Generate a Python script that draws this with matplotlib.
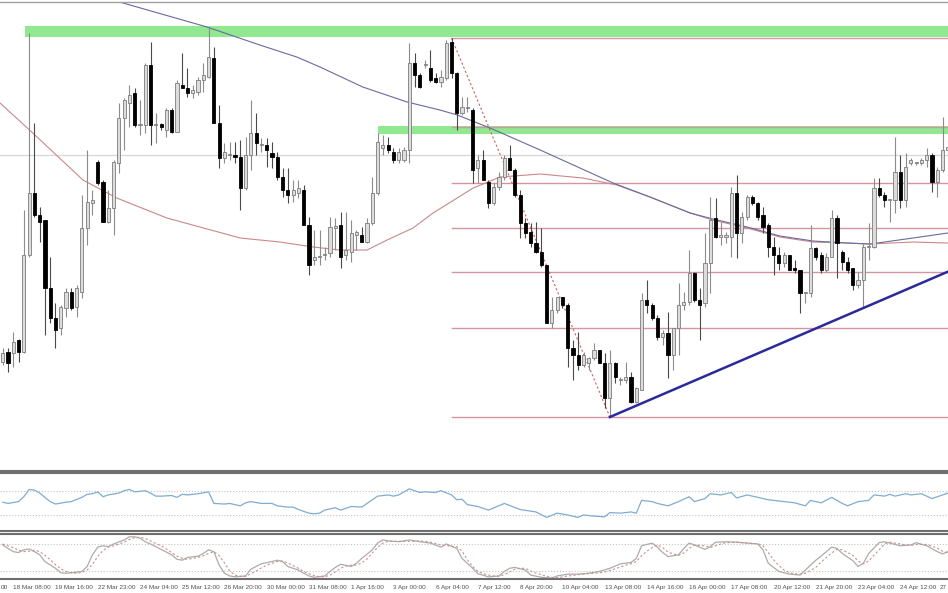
import numpy as np
import matplotlib.pyplot as plt
import matplotlib.transforms as mtransforms

# H4 candles (price in chart units)
opens = [108, 118, 117, 130, 118, 215, 277, 255, 250, 182, 152, 142, 162, 178, 163, 178, 242, 267, 308, 288,
         248, 262, 307, 352, 367, 377, 345, 345, 405, 345, 346, 340, 360, 338, 385, 382, 377, 378, 390, 393,
         412, 347, 312, 315, 315, 313, 282, 315, 337, 325, 325, 317, 313, 293, 280, 275, 277, 280, 245, 210,
         213, 215, 217, 242, 245, 215, 218, 235, 235, 228, 247, 277, 322, 325, 318, 310, 310, 320, 407, 395,
         405, 402, 392, 388, 392, 428, 397, 357, 362, 360, 302, 310, 288, 267, 283, 293, 312, 300, 275, 247,
         238, 227, 218, 205, 147, 160, 173, 165, 122, 115, 105, 107, 112, 120, 107, 72, 107, 90, 90, 93,
         68, 80, 170, 165, 152, 133, 137, 115, 142, 165, 168, 197, 170, 167, 207, 252, 233, 233, 233, 277,
         237, 253, 273, 267, 255, 245, 223, 215, 207, 215, 202, 200, 177, 177, 222, 215, 200, 213, 252, 218,
         208, 202, 185, 190, 223, 223, 282, 275, 270, 270, 298, 270, 307, 307, 307, 310, 315, 288, 300, 320]
highs = [122, 122, 138, 131, 260, 437, 347, 263, 250, 213, 167, 165, 182, 182, 185, 275, 320, 280, 310, 290,
         280, 310, 367, 372, 385, 382, 370, 407, 428, 357, 347, 362, 362, 390, 417, 402, 385, 393, 407, 443,
         423, 365, 327, 328, 328, 330, 333, 370, 357, 332, 332, 328, 318, 302, 302, 290, 290, 285, 253, 240,
         240, 223, 253, 252, 258, 258, 250, 240, 243, 252, 293, 337, 335, 333, 322, 322, 323, 427, 417, 397,
         410, 420, 397, 400, 430, 432, 398, 373, 373, 362, 315, 320, 290, 287, 298, 315, 325, 302, 280, 252,
         247, 248, 242, 205, 173, 173, 173, 167, 130, 138, 118, 113, 127, 120, 117, 120, 108, 93, 108, 98,
         83, 177, 190, 167, 155, 140, 158, 142, 187, 178, 220, 198, 182, 237, 273, 272, 248, 238, 283, 295,
         258, 275, 275, 268, 263, 247, 233, 223, 218, 215, 210, 200, 178, 245, 223, 218, 217, 260, 255, 220,
         213, 202, 198, 227, 247, 292, 292, 278, 270, 333, 315, 317, 312, 308, 312, 322, 317, 303, 353, 330]
lows = [105, 98, 103, 108, 117, 213, 253, 228, 135, 147, 122, 135, 153, 160, 153, 172, 225, 255, 285, 248,
        247, 235, 297, 320, 343, 343, 335, 337, 325, 327, 340, 333, 337, 338, 382, 373, 372, 375, 378, 392,
        347, 302, 307, 310, 307, 260, 280, 300, 315, 318, 303, 302, 290, 273, 267, 268, 272, 245, 195, 205,
        205, 210, 213, 220, 202, 210, 208, 220, 228, 227, 245, 275, 315, 317, 307, 307, 308, 307, 383, 382,
        402, 388, 387, 383, 390, 392, 340, 355, 358, 287, 287, 290, 262, 265, 280, 290, 300, 273, 232, 232,
        223, 217, 203, 147, 142, 157, 162, 103, 90, 100, 103, 100, 110, 107, 62, 53, 87, 85, 87, 67,
        67, 80, 157, 150, 130, 125, 92, 100, 115, 160, 165, 168, 130, 163, 177, 232, 225, 227, 213, 212,
        227, 250, 265, 250, 237, 213, 195, 200, 203, 200, 197, 157, 167, 173, 210, 197, 198, 213, 192, 200,
        197, 180, 182, 162, 210, 222, 273, 263, 248, 257, 262, 263, 305, 305, 305, 303, 278, 273, 298, 315]
closes = [117, 107, 128, 118, 215, 277, 255, 248, 182, 152, 140, 163, 178, 162, 182, 242, 268, 270, 287, 248,
          262, 308, 352, 370, 375, 345, 345, 405, 345, 346, 343, 360, 338, 387, 382, 377, 380, 390, 395, 413,
          347, 312, 318, 315, 313, 282, 315, 337, 327, 326, 320, 313, 293, 280, 275, 280, 282, 245, 205, 213,
          213, 215, 243, 244, 213, 220, 237, 238, 228, 247, 277, 328, 325, 320, 310, 318, 320, 407, 395, 383,
          405, 390, 388, 393, 427, 397, 357, 363, 363, 300, 310, 290, 267, 283, 293, 312, 300, 275, 247, 237,
          227, 218, 205, 147, 160, 173, 165, 122, 115, 105, 115, 112, 120, 107, 72, 107, 93, 90, 93, 68,
          82, 170, 165, 152, 133, 137, 115, 142, 165, 168, 197, 170, 165, 207, 250, 233, 235, 235, 277, 237,
          253, 273, 267, 253, 243, 223, 215, 207, 215, 200, 200, 177, 178, 222, 213, 200, 213, 252, 227, 208,
          200, 185, 190, 223, 223, 282, 275, 270, 270, 298, 270, 303, 310, 307, 310, 315, 288, 300, 320, 323]

# moving averages, read as (bar, value) vertices
ma_red_bar = [-0.5, 5.7, 15.2, 21.6, 31.1, 45.0, 52.5, 58.8, 63.9, 69.0, 72.8, 77.7, 81.5, 89.1, 94.2,
              101.8, 109.9, 116.3, 122.6, 130.2, 134.5, 141.0, 147.2, 153.5, 159.9, 164.3, 172.4, 179.0]
ma_red_val = [367, 337, 290, 272, 252, 232, 228, 223, 220, 220, 230, 242, 257, 282, 293,
              296, 292, 285, 273, 257, 250, 242, 233, 228, 227, 226, 228, 227]
ma_blue_bar = [18.4, 22.8, 38.7, 48.7, 55.7, 60.1, 68.2, 76.6, 82.8, 86.1, 92.3, 101.8, 115.6, 122.6,
               130.2, 134.5, 141.0, 147.2, 153.5, 159.9, 164.3, 172.4, 179.0]
ma_blue_val = [475, 467, 443, 425, 413, 403, 383, 368, 360, 355, 342, 320, 287, 273,
               257, 251, 243, 234, 229, 227, 226, 232, 237]

# RSI panel
rsi_bar = [0, 1, 3, 4, 5, 6, 7, 9, 10, 12, 13, 15, 16, 17, 18, 19, 20, 22, 23, 24, 25, 27, 28, 29, 30,
           32, 33, 34, 35, 37, 39, 40, 42, 43, 45, 46, 47, 49, 51, 52, 54, 55, 56, 58, 59, 60, 61, 63, 64,
           65, 66, 68, 69, 71, 73, 74, 75, 77, 78, 79, 80, 82, 83, 85, 86, 87, 88, 90, 92, 95, 98, 101,
           103, 105, 107, 109, 110, 112, 114, 115, 117, 119, 120, 121, 123, 124, 126, 128, 129, 130, 131,
           133, 134, 136, 138, 139, 141, 143, 145, 148, 150, 152, 153, 155, 157, 159, 160, 162, 164, 165,
           167, 168, 169, 171, 172, 174, 176, 177, 179]
rsi_val = [51, 49, 52, 60, 72, 71, 66, 52, 48, 51, 52, 59, 64, 65, 68, 60, 63, 66, 70, 72, 68, 70, 66, 61, 61,
           62, 59, 64, 63, 65, 68, 49, 48, 49, 45, 50, 52, 49, 49, 45, 43, 43, 39, 33, 32, 33, 38, 42, 38,
           41, 44, 43, 49, 61, 63, 61, 63, 73, 70, 67, 68, 67, 70, 63, 55, 56, 47, 44, 38, 49, 39, 35,
           26, 33, 30, 26, 30, 28, 27, 34, 33, 35, 33, 54, 52, 49, 45, 52, 56, 60, 52,
           57, 65, 63, 67, 58, 63, 59, 55, 52, 50, 45, 54, 50, 59, 49, 45, 52, 54, 63,
           61, 64, 61, 65, 63, 65, 57, 60, 66]

# stochastic panel: main (solid) and signal (dashed)
st_bar = [0, 1, 2, 3, 4, 5, 6, 7, 8, 10, 11, 12, 13, 15, 16, 17, 18, 19, 20, 21, 23, 24, 25, 26, 27, 28, 30,
          32, 33, 34, 35, 37, 38, 39, 40, 41, 42, 43, 44, 46, 47, 48, 49, 51, 52, 53, 54, 56, 57, 58, 59,
          61, 62, 63, 64, 66, 67, 68, 70, 71, 72, 73, 75, 77, 79, 81, 83, 84, 86, 87, 89, 90, 92, 94, 95,
          96, 97, 99, 100, 102, 104, 105, 107, 109, 111, 113, 115, 117, 119, 120, 121, 123, 124, 125, 126,
          128, 129, 130, 131, 133, 134, 135, 137, 139, 141, 143, 144, 145, 147, 148, 149, 151, 152, 154,
          155, 157, 158, 159, 161, 162, 163, 164, 166, 167, 168, 170, 172, 173, 175, 177, 178, 179]
st_main = [78, 70, 63, 61, 67, 69, 63, 56, 41, 26, 16, 15, 16, 19, 30, 56, 73, 76, 74, 80, 89, 96, 96, 93, 85, 80, 68,
           56, 46, 44, 50, 53, 59, 67, 63, 33, 15, 9, 7, 9, 24, 30, 36, 41, 44, 41, 30, 22, 15, 9, 6,
           9, 19, 28, 35, 30, 37, 48, 67, 82, 89, 87, 85, 89, 85, 82, 73, 80, 70, 48, 26, 14, 7, 9, 19,
           26, 28, 22, 11, 6, 4, 9, 13, 13, 15, 19, 26, 36, 39, 48, 76, 82, 73, 61, 52,
           56, 70, 82, 78, 68, 74, 84, 85, 84, 82, 80, 67, 37, 19, 16, 13, 11, 22, 44,
           53, 73, 70, 59, 43, 30, 37, 59, 83, 85, 82, 76, 78, 83, 76, 63, 58, 63]
sig_bar = list(range(0, 180))
st_signal = [80, 76, 72, 66, 63, 64, 66, 63, 55, 45, 34, 25, 19, 16, 15, 17, 22, 35, 52, 66,
             73, 76, 80, 84, 90, 94, 95, 92, 87, 81, 76, 69, 61, 53, 48, 46, 48, 50, 54, 59,
             63, 54, 38, 20, 11, 8, 8, 14, 20, 27, 33, 37, 41, 42, 38, 32, 26, 19, 14, 10,
             7, 7, 11, 18, 26, 31, 33, 33, 38, 47, 60, 72, 82, 86, 86, 86, 86, 86, 86, 87,
             86, 84, 81, 78, 76, 75, 74, 64, 45, 30, 19, 14, 11, 9, 8, 12, 18, 24, 26, 26,
             20, 15, 12, 8, 6, 5, 7, 9, 10, 12, 13, 14, 15, 16, 18, 21, 25, 29, 33, 36,
             41, 54, 64, 72, 78, 72, 62, 58, 55, 60, 70, 77, 77, 76, 72, 76, 80, 83, 83, 84,
             83, 82, 81, 81, 76, 61, 45, 32, 22, 16, 14, 13, 15, 21, 28, 40, 50, 60, 68, 67,
             61, 55, 42, 36, 42, 55, 67, 80, 84, 82, 80, 78, 77, 79, 79, 79, 75, 71, 64, 60]

time_labels = ["18 Mar 08:00", "19 Mar 16:00", "22 Mar 23:00", "24 Mar 04:00",
               "25 Mar 12:00", "26 Mar 20:00", "30 Mar 00:00", "31 Mar 08:00", "1 Apr 16:00",
               "3 Apr 00:00", "6 Apr 04:00", "7 Apr 12:00", "8 Apr 20:00", "10 Apr 04:00",
               "13 Apr 08:00", "14 Apr 16:00", "16 Apr 00:00", "17 Apr 08:00", "20 Apr 12:00",
               "21 Apr 20:00", "23 Apr 04:00", "24 Apr 12:00"]
label_bars = list(range(2, 178, 8))
# label pieces that the window edges leave visible
edge_left, edge_right = "00", "27"

fib_ratios = [0.0, 0.236, 0.382, 0.5, 0.618, 0.764, 1.0]
swing_hi, swing_lo = 85, 115     # bars of the fib swing
trend_a, trend_b = 115, 163      # bars whose lows carry the blue trendline

o = np.array(opens, float)
h = np.array(highs, float)
l = np.array(lows, float)
c = np.array(closes, float)
x = np.arange(len(c))
XMIN, XMAX = -0.51, 179.03

fig = plt.figure(figsize=(9.48, 5.93), dpi=100)
ax = fig.add_axes([0, 0.2057, 1, 0.7909])
ax_rsi = fig.add_axes([0, 0.1046, 1, 0.0978])
ax_st = fig.add_axes([0, 0.0236, 1, 0.0759])

for a in (ax, ax_rsi, ax_st):
    a.set_xlim(XMIN, XMAX)
    a.set_xticks([])
    a.set_yticks([])
    for s in ('left', 'right'):
        a.spines[s].set_visible(False)
    for s in ('top', 'bottom'):
        a.spines[s].set_color('#6e6e6e')
        a.spines[s].set_linewidth(1.5)
ax.spines['top'].set_color('#a0a0a0')
ax.spines['top'].set_linewidth(1.0)

ax.set_ylim(-1, 468)

# support zones
ax.fill_between([4.3, XMAX], 433, 444, color='#90e890', lw=0, zorder=1)
ax.fill_between([71.1, XMAX], 336, 344, color='#90e890', lw=0, zorder=1)
ax.axhline(315, color='#dadada', lw=1, zorder=1)

# fibonacci retracement of the swing
hi_v, lo_v = h[swing_hi], l[swing_lo]
for r in fib_ratios:
    lev = lo_v + r * (hi_v - lo_v)
    ax.plot([swing_hi, XMAX], [lev, lev], color='#d395a2', lw=1, zorder=2)
ax.plot([swing_hi, swing_lo], [hi_v, lo_v], color='#cc6060', lw=0.8, ls=(0, (2, 2)), zorder=2)

# moving averages
ax.plot(ma_red_bar, ma_red_val, color='#cc8888', lw=0.8, zorder=2)
ax.plot(ma_blue_bar, ma_blue_val, color='#6a6aa0', lw=0.8, zorder=2)

# candles
up = c >= o
bot = np.minimum(o, c)
body = np.maximum(np.abs(c - o), 1.0)
ax.vlines(x[up], l[up], h[up], color='#8c8c8c', lw=0.8, zorder=3)
ax.vlines(x[~up], l[~up], h[~up], color='#4a4a4a', lw=0.8, zorder=3)
ax.bar(x[up], body[up], bottom=bot[up], width=0.6, facecolor='#dcdcdc',
       edgecolor='#7c7c7c', lw=0.6, zorder=4)
ax.bar(x[~up], body[~up], bottom=bot[~up], width=0.6, facecolor='black',
       edgecolor='black', lw=0.6, zorder=4)

# rising trendline through two lows
slope = (l[trend_b] - l[trend_a]) / (trend_b - trend_a)
ax.plot([trend_a, XMAX], [l[trend_a], l[trend_a] + slope * (XMAX - trend_a)],
        color='#2a2a9a', lw=1.8, zorder=5)

# RSI
ax_rsi.set_ylim(3.7, 99.1)
for lev in (70, 30):
    ax_rsi.axhline(lev, color='#c4c4c4', lw=0.8, ls=':')
ax_rsi.plot(rsi_bar, rsi_val, color='#80acd2', lw=0.9)

# stochastic
ax_st.set_ylim(2.2, 102.2)
for lev in (80, 20):
    ax_st.axhline(lev, color='#c4c4c4', lw=0.8, ls=':')
ax_st.plot(st_bar, st_main, color='#acacac', lw=0.9)
ax_st.plot(sig_bar, st_signal, color='#c99090', lw=0.8, ls=(0, (2, 2)))

# time axis labels
trans = mtransforms.blended_transform_factory(ax_st.transData, ax_st.transAxes)
lab = dict(va='center', fontsize=4.6, family='Liberation Sans', color='#505050', clip_on=False)
for b, t in zip(label_bars, time_labels):
    ax_st.text(b, -0.18, t, transform=trans, ha='left', **lab)
ax_st.text(0.001, -0.18, edge_left, transform=ax_st.transAxes, ha='left', **lab)
ax_st.text(0.999, -0.18, edge_right, transform=ax_st.transAxes, ha='right', **lab)

fig.savefig('out.png', dpi=100)
